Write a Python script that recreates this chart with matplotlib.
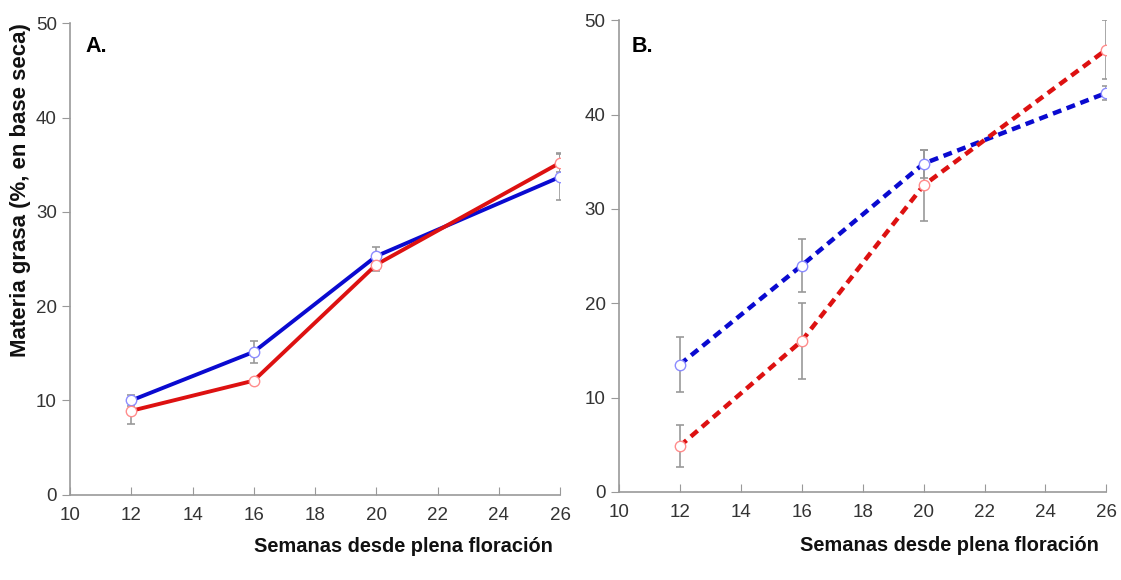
import matplotlib.pyplot as plt

plt.rcParams['font.family'] = ['Liberation Sans', 'DejaVu Sans']

semanas = [12, 16, 20, 26]

# panel A
a_azul = [10.0, 15.15, 25.3, 33.7]
a_azul_err = [0.6, 1.15, 1.0, 2.4]
a_rojo = [8.9, 12.1, 24.4, 35.2]
a_rojo_err = [1.4, 0.2, 0.7, 1.0]

# panel B
b_azul = [13.5, 24.0, 34.8, 42.3]
b_azul_err = [2.9, 2.85, 1.5, 0.7]
b_rojo = [4.85, 16.0, 32.5, 46.9]
b_rojo_err = [2.2, 4.0, 3.8, 3.1]

xticks = [10, 12, 14, 16, 18, 20, 22, 24, 26]
yticks = [0, 10, 20, 30, 40, 50]

azul = '#0a0ad0'
rojo = '#dd1111'
gris = '#999999'

fig = plt.figure(figsize=(11.21, 5.8), dpi=100)
axA = fig.add_axes([0.0625, 0.147, 0.4371, 0.813])
axB = fig.add_axes([0.552, 0.152, 0.435, 0.813])


def dibujar(ax, azul_v, azul_e, rojo_v, rojo_e, estilo, etiqueta, pos, ylab):
    for vals, errs, col, mcol in [(azul_v, azul_e, azul, '#8c8cff'),
                                  (rojo_v, rojo_e, rojo, '#ff8c8c')]:
        ax.errorbar(semanas, vals, yerr=errs, fmt='none', ecolor=gris,
                    elinewidth=1.2, capsize=3, capthick=1.2, zorder=2)
        if estilo == 'solid':
            ax.plot(semanas, vals, color=col, lw=2.8, zorder=3,
                    solid_capstyle='butt')
        else:
            ax.plot(semanas, vals, color=col, lw=3.2, zorder=3,
                    linestyle=(0, (2.0, 1.3)), dash_capstyle='butt')
        ax.plot(semanas, vals, 'o', ms=7.5, mfc='white', mec=mcol, mew=1.0,
                zorder=4)

    ax.set_xlim(10, 26)
    ax.set_ylim(0, 50)
    ax.set_xticks(xticks)
    ax.set_yticks(yticks)
    for s in ['top', 'right']:
        ax.spines[s].set_visible(False)
    for s in ['left', 'bottom']:
        ax.spines[s].set_color(gris)
        ax.spines[s].set_linewidth(1.2)
    ax.tick_params(axis='x', direction='in', length=6, color=gris,
                   labelsize=13.5, labelcolor='#333333', pad=9)
    ax.tick_params(axis='y', direction='out', length=6, color=gris,
                   labelsize=13.5, labelcolor='#333333')
    ax.text(pos[0], pos[1], etiqueta, transform=ax.transAxes, fontsize=15.5,
            fontweight='bold', va='center')
    ax.text(0.985, ylab, 'Semanas desde plena floración',
            transform=ax.transAxes, ha='right', va='center', fontsize=14.4,
            fontweight='bold', color='#111111')


dibujar(axA, a_azul, a_azul_err, a_rojo, a_rojo_err, 'solid', 'A.',
        (0.031, 0.951), -0.109)
dibujar(axB, b_azul, b_azul_err, b_rojo, b_rojo_err, 'dashed', 'B.',
        (0.027, 0.945), -0.114)

axA.set_ylabel('Materia grasa (%, en base seca)', fontsize=16,
               fontweight='bold', color='#111111')
axA.yaxis.set_label_coords(-0.08, 0.647)

fig.savefig('out.png', dpi=100)
